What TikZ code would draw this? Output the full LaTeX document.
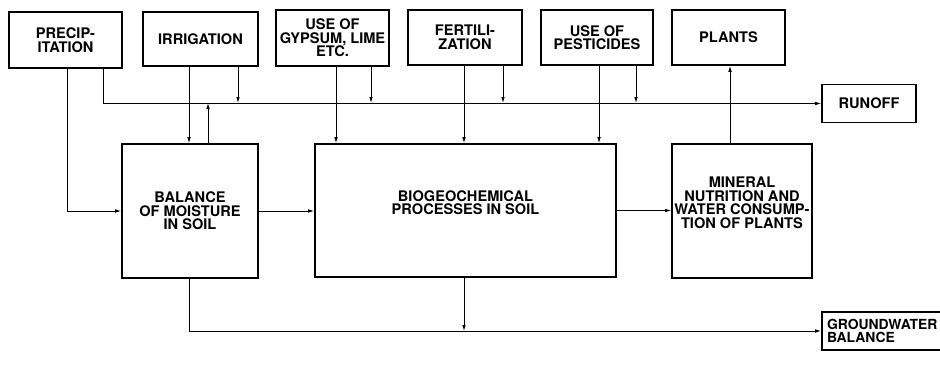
\documentclass[tikz,border=0pt]{standalone}
\usepackage{fontspec}
\setmainfont{TeX Gyre Heros}
\usetikzlibrary{arrows.meta}
\tikzset{
  box/.style={draw, line width=1.6pt, rectangle, align=center, inner sep=0pt,
    font=\fontsize{14.6}{13.6}\selectfont\bfseries},
  conn/.style={line width=0.9pt, -{Latex[length=6pt,width=3.6pt]}},
}
\begin{document}
\begin{tikzpicture}[x=1pt,y=-1pt]
\useasboundingbox (0,0) rectangle (940,386);
% top row
\node[box, minimum width=113, minimum height=56] (prec) at (65.5,40) {PRECIP-\\ITATION};
\node[box, minimum width=115, minimum height=54] (irr) at (200.5,39) {IRRIGATION};
\node[box, minimum width=113, minimum height=56] (gyp) at (332.5,38) {USE OF\\GYPSUM, LIME\\ETC.};
\node[box, minimum width=114, minimum height=55] (fert) at (465,37.5) {FERTILI-\\ZATION};
\node[box, minimum width=112, minimum height=55] (pest) at (597,37.5) {USE OF\\PESTICIDES};
\node[box, minimum width=113, minimum height=55] (plants) at (728.5,37.5) {PLANTS};
\node[box, minimum width=94, minimum height=38] (runoff) at (869,103.5) {RUNOFF};
% middle row
\node[box, minimum width=136, minimum height=134] (bal) at (190,211) {BALANCE\\OF MOISTURE\\IN SOIL};
\node[box, minimum width=301, minimum height=133] (bio) at (465.5,210.5) {BIOGEOCHEMICAL\\PROCESSES IN SOIL\\[2pt]};
\node[box, minimum width=140, minimum height=134] (min) at (742,211) {MINERAL\\NUTRITION AND\\WATER CONSUMP-\\TION OF PLANTS\\[3pt]};
% groundwater
\node[box, minimum height=38, text width=118, inner sep=5pt, align=left,
  font=\fontsize{13.9}{13.4}\selectfont\bfseries] (gw) at (886,331) {GROUNDWATER\\BALANCE};
% line level of the runoff collector
\coordinate (rline) at (0,103);
% precipitation
\draw[conn] ([xshift=1.5]prec.south) |- (bal.west);
\draw[conn] ([xshift=37.5]prec.south) |- (runoff.west);
% irrigation
\draw[conn] ([xshift=-11.5]irr.south) -- ([xshift=-11.5]irr.south |- bal.north);
\draw[conn] ([xshift=37.5]irr.south) -- ([xshift=37.5]irr.south |- rline);
\draw[conn] ([xshift=18]bal.north) -- ([xshift=18]bal.north |- rline);
% gypsum
\draw[conn] ([xshift=3.5]gyp.south) -- ([xshift=3.5]gyp.south |- bio.north);
\draw[conn] ([xshift=38.5]gyp.south) -- ([xshift=38.5]gyp.south |- rline);
% fertilization
\draw[conn] ([xshift=-1]fert.south) -- ([xshift=-1]fert.south |- bio.north);
\draw[conn] ([xshift=38]fert.south) -- ([xshift=38]fert.south |- rline);
% pesticides
\draw[conn] ([xshift=2]pest.south) -- ([xshift=2]pest.south |- bio.north);
\draw[conn] ([xshift=39]pest.south) -- ([xshift=39]pest.south |- rline);
% plants
\draw[conn] ([xshift=-12]min.north) -- ([xshift=-12]min.north |- plants.south);
% middle flows
\draw[conn] (bal.east) -- (bal.east -| bio.west);
\draw[conn] (bio.east) -- (bio.east -| min.west);
% groundwater
\draw[conn] ([xshift=-1]bal.south) |- (gw.west);
\draw[conn] ([xshift=-1.5]bio.south) -- ([xshift=-1.5]bio.south |- gw.west);
\end{tikzpicture}
\end{document}
